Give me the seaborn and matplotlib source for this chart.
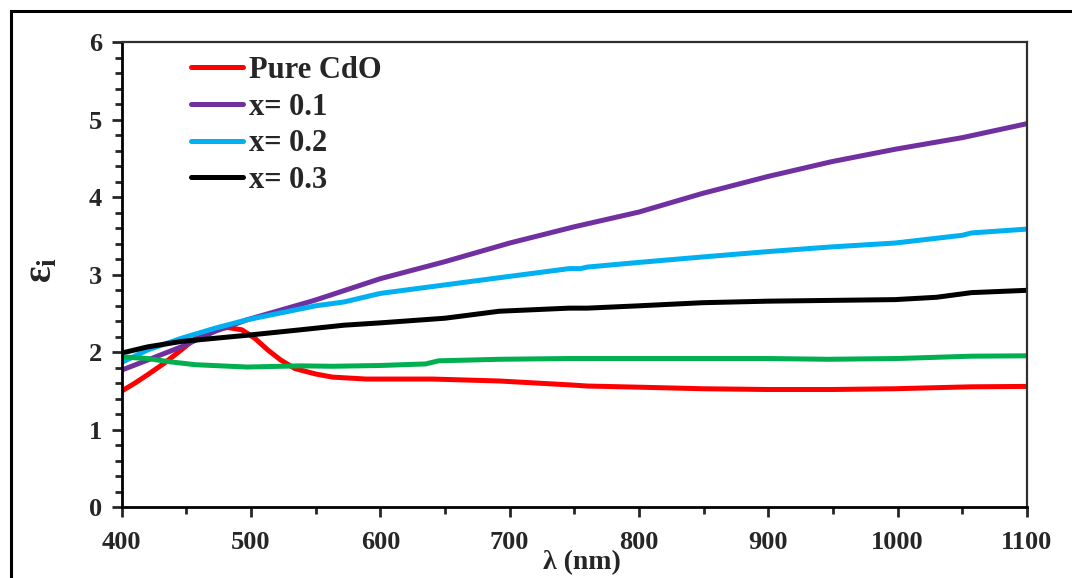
import matplotlib
matplotlib.use("Agg")
import matplotlib.pyplot as plt
from matplotlib.patches import Rectangle
from matplotlib.ticker import MultipleLocator
import numpy as np
import pandas as pd
import seaborn as sns

# wavelength (nm) / imaginary dielectric constant
wl_pure = [400, 410, 420, 433, 446, 457, 469, 482, 493, 503, 513, 523, 534, 550, 563, 589, 640, 692, 746, 760, 800, 849, 900, 949, 998, 1057, 1100]
eps_pure = [1.50, 1.60, 1.71, 1.86, 2.03, 2.18, 2.29, 2.32, 2.29, 2.18, 2.03, 1.90, 1.79, 1.72, 1.68, 1.655, 1.655, 1.63, 1.58, 1.565, 1.55, 1.53, 1.52, 1.52, 1.53, 1.555, 1.56]

wl_x01 = [400, 420, 446, 472, 497, 549, 600, 650, 700, 750, 800, 849, 900, 949, 998, 1050, 1100]
eps_x01 = [1.77, 1.90, 2.07, 2.27, 2.42, 2.67, 2.95, 3.17, 3.41, 3.62, 3.81, 4.05, 4.27, 4.46, 4.62, 4.77, 4.95]

wl_x02 = [400, 420, 446, 472, 497, 550, 572, 600, 650, 700, 746, 755, 760, 800, 849, 900, 949, 998, 1050, 1057, 1100]
eps_x02 = [1.87, 2.03, 2.18, 2.31, 2.42, 2.60, 2.65, 2.76, 2.87, 2.98, 3.08, 3.08, 3.10, 3.16, 3.23, 3.30, 3.36, 3.41, 3.51, 3.54, 3.59]

wl_x03 = [400, 420, 446, 497, 538, 572, 600, 650, 692, 746, 760, 800, 849, 900, 949, 998, 1030, 1057, 1100]
eps_x03 = [1.99, 2.07, 2.14, 2.22, 2.29, 2.35, 2.38, 2.44, 2.53, 2.57, 2.57, 2.60, 2.64, 2.66, 2.67, 2.68, 2.71, 2.77, 2.80]

# fifth curve (green) has no legend entry in the original
wl_x04 = [400, 420, 436, 457, 497, 538, 563, 600, 635, 645, 692, 746, 800, 900, 946, 1000, 1057, 1100]
eps_x04 = [1.94, 1.92, 1.88, 1.84, 1.81, 1.825, 1.82, 1.83, 1.85, 1.89, 1.91, 1.92, 1.92, 1.92, 1.91, 1.92, 1.95, 1.955]

series = [
    ("Pure CdO", wl_pure, eps_pure, "#FF0000"),
    ("x= 0.1", wl_x01, eps_x01, "#7030A0"),
    ("x= 0.2", wl_x02, eps_x02, "#00B0F0"),
    ("x= 0.3", wl_x03, eps_x03, "#000000"),
    ("_nolegend_", wl_x04, eps_x04, "#00B050"),
]

sns.set_style("ticks")
plt.rcParams['font.family'] = ['Liberation Serif', 'DejaVu Serif']
plt.rcParams['font.weight'] = 'bold'
plt.rcParams['mathtext.fontset'] = 'custom'
plt.rcParams['mathtext.rm'] = 'Liberation Serif:bold'
plt.rcParams['mathtext.it'] = 'Liberation Serif:bold'
plt.rcParams['mathtext.bf'] = 'Liberation Serif:bold'

fig = plt.figure(figsize=(10.72, 5.78), dpi=100)
ax = fig.add_axes([0.1135, 0.1223, 0.8445, 0.8045])

for name, wl, eps, col in series:
    df = pd.DataFrame({"wl": wl, "eps": eps})
    sns.lineplot(data=df, x="wl", y="eps", color=col, linewidth=3.6,
                 label=name, ax=ax, sort=False, legend=False)

ax.set_xlim(400, 1100)
ax.set_ylim(0, 6)
ax.xaxis.set_major_locator(MultipleLocator(100))
ax.xaxis.set_minor_locator(MultipleLocator(50))
ax.yaxis.set_major_locator(MultipleLocator(1))
ax.yaxis.set_minor_locator(MultipleLocator(0.2))
ax.tick_params(which='major', direction='out', length=7, width=2, labelsize=19, pad=7)
ax.tick_params(which='minor', direction='out', length=5, width=2)
ax.tick_params(axis='x', which='major', pad=10)

for s in ['left', 'bottom']:
    ax.spines[s].set_linewidth(2)
    ax.spines[s].set_color('black')
for s in ['top', 'right']:
    ax.spines[s].set_linewidth(1.6)
    ax.spines[s].set_color('#303030')

ax.set_xlabel("λ (nm)", fontsize=20, fontweight='bold')
ax.xaxis.set_label_coords(0.508, -0.093)
ax.set_ylabel(r"$\mathbf{ε_i}$", fontsize=28, rotation=90)
ax.yaxis.set_label_coords(-0.068, 0.51)

leg = ax.legend(loc='upper left', bbox_to_anchor=(0.073, 0.977), frameon=False,
                fontsize=22, handlelength=1.7, handletextpad=0.2,
                labelspacing=0.25, borderpad=0.1, borderaxespad=0)
for t in leg.get_texts():
    t.set_fontweight('bold')

# outer frame (runs off the right and bottom edges as in the source image)
fig.add_artist(Rectangle((11 / 1072, -0.1), 1.2, 0.981 + 0.1,
                         transform=fig.transFigure, fill=False,
                         edgecolor='black', linewidth=2.2, clip_on=False))

plt.savefig("out.png", dpi=100)
plt.close(fig)
